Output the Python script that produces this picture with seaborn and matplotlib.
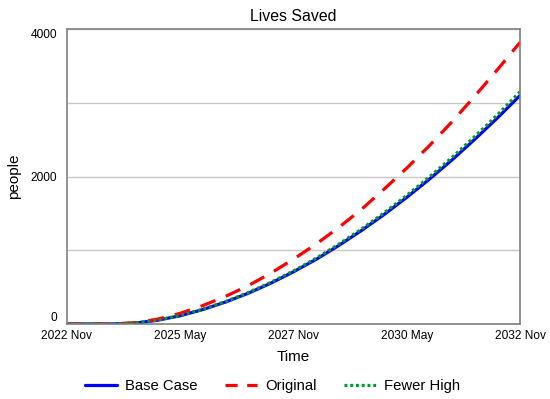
import numpy as np
import pandas as pd
import matplotlib.pyplot as plt
import seaborn as sns

# years since 2022 Nov, half-year steps
years = [0, 0.5, 1, 1.5, 2, 2.5, 3, 3.5, 4, 4.5, 5, 5.5, 6, 6.5, 7, 7.5, 8, 8.5, 9, 9.5, 10]
base_case = [0, 0, 0, 12, 51, 112, 196, 298, 417, 554, 708, 877, 1065, 1268, 1485, 1718, 1965, 2226, 2505, 2795, 3100]
original = [0, 0, 0, 16, 66, 145, 250, 375, 520, 690, 880, 1085, 1310, 1555, 1830, 2115, 2420, 2745, 3090, 3450, 3820]
fewer_high = [0, 0, 0, 12, 53, 115, 200, 305, 425, 565, 720, 892, 1082, 1288, 1508, 1745, 1995, 2260, 2543, 2837, 3150]

tick_pos = [0, 2.5, 5, 7.5, 10]
tick_labels = ['2022 Nov', '2025 May', '2027 Nov', '2030 May', '2032 Nov']

df = pd.DataFrame({'t': years, 'Base Case': base_case, 'Original': original, 'Fewer High': fewer_high})

sns.set_style('white')
plt.rcParams['font.family'] = ['Liberation Sans', 'DejaVu Sans']
plt.rcParams.update({'text.color': 'black', 'axes.labelcolor': 'black',
                     'xtick.color': 'black', 'ytick.color': 'black'})

fig = plt.figure(figsize=(5.5, 3.99), dpi=100)
ax = fig.add_axes([0.1218, 0.188, 0.8237, 0.739])

sns.lineplot(data=df, x='t', y='Base Case', color='#0000ff', lw=2.3, ax=ax, label='Base Case')
sns.lineplot(data=df, x='t', y='Original', color='#ff0000', lw=2.3, ax=ax, label='Original')
sns.lineplot(data=df, x='t', y='Fewer High', color='#009933', lw=2.3, ax=ax, label='Fewer High')
ax.lines[1].set_dashes([5, 3.5])
ax.lines[2].set_dashes([0.9, 0.9])

ax.set_xlim(0, 10)
ax.set_ylim(0, 4000)
ax.set_xticks(tick_pos)
ax.set_xticklabels(tick_labels, fontsize=8.6)
ax.set_yticks([0, 1000, 2000, 3000, 4000])
ax.set_yticklabels(['0', '', '2000', '', '4000'], fontsize=8.6)
ylabs = ax.get_yticklabels()
ylabs[0].set_va('bottom')
ylabs[4].set_va('top')
ax.tick_params(axis='y', length=0, pad=7)
ax.tick_params(axis='x', length=0, pad=4)
ax.grid(axis='y', color='#c8c8c8', lw=1)
for s in ax.spines.values():
    s.set_color('#808080')
    s.set_linewidth(1.2)

ax.set_title('Lives Saved', fontsize=11.4, pad=6)
ax.set_xlabel('Time', fontsize=11, labelpad=6)
ax.set_ylabel('people', fontsize=11, labelpad=7)

handles, labels = ax.get_legend_handles_labels()
ax.legend_.remove()
leg = fig.legend(handles, labels, loc='center', ncol=3, frameon=False,
                 bbox_to_anchor=(0.495, 0.033), fontsize=10.7, handlelength=2.2,
                 columnspacing=1.85, handletextpad=0.5)
leg.get_lines()[1].set_dashes([3.8, 3.0])

fig.savefig('out.png', dpi=100)
